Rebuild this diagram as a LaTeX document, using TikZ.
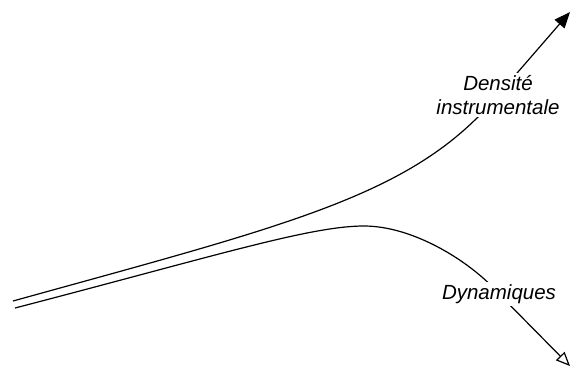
\documentclass[tikz,border=0pt]{standalone}
\usepackage{fontspec}
\setmainfont{Liberation Sans}
\usetikzlibrary{arrows.meta}
\begin{document}
\begin{tikzpicture}[x=1pt,y=-1pt,
  curve/.style={line width=1.2pt, black},
  lbl/.style={fill=white, inner sep=2.5pt, align=center,
    font=\fontsize{20.5}{24}\selectfont\itshape},
  solidtip/.style={-{Triangle[length=16pt,width=13pt]}},
  opentip/.style={-{Triangle[open,length=14pt,width=12pt,line width=1.2pt]}}]
\useasboundingbox (0,0) rectangle (572,368);
% end points
\coordinate (s1) at (13,301);
\coordinate (m1) at (498,95);
\coordinate (e1) at (570,12);
\coordinate (s2) at (15,308);
\coordinate (p2) at (364,226);
\coordinate (m2) at (499,294);
\coordinate (e2) at (570,366);
% upper connector
\draw[curve,solidtip] (s1) .. controls (293,223.4) and (415,195) .. (m1) -- (e1);
% lower connector
\draw[curve,opentip] (s2) .. controls (215,256) and (310,226) .. (p2)
  .. controls (415,226) and (473,263.6) .. (m2) -- (e2);
% labels
\node[lbl] (l1) at (m1) {Densité\\instrumentale};
\node[lbl] (l2) at (m2) {Dynamiques};
\end{tikzpicture}
\end{document}
